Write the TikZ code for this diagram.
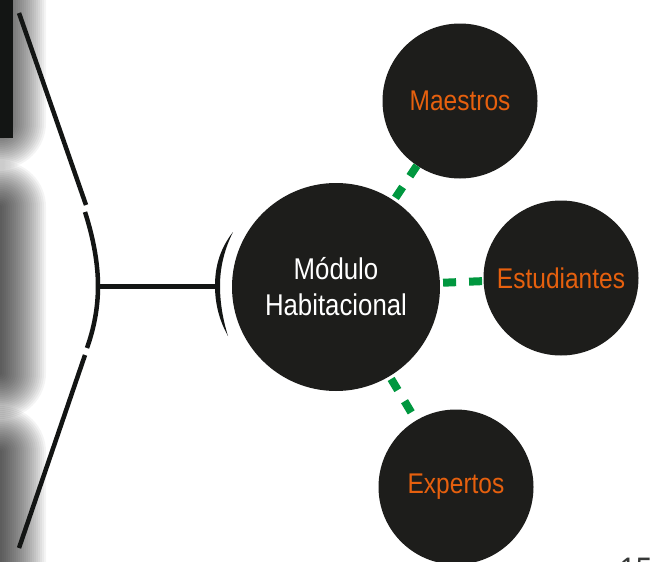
\documentclass[tikz,border=0pt]{standalone}
\usepackage{fontspec}
\setmainfont{Liberation Sans}[FakeStretch=0.86]
\usetikzlibrary{positioning}
\definecolor{coal}{HTML}{1D1D1B}
\definecolor{leaf}{HTML}{00973F}
\definecolor{ember}{HTML}{E6600E}
\definecolor{ink}{HTML}{131514}

\begin{document}
\begin{tikzpicture}[x=1pt, y=-1pt,
  hub/.style={circle, fill=coal, inner sep=0pt, minimum size=208pt,
    text=white, align=center, font=\fontsize{30}{36}\selectfont},
  spoke/.style={circle, fill=coal, inner sep=0pt, minimum size=155pt,
    text=ember, font=\fontsize{28.5}{34}\selectfont},
  link/.style={leaf, line width=8pt, dash pattern=on 13pt off 13pt, shorten <=3pt},
  brace/.style={ink, line width=4.5pt}]

\useasboundingbox (0,0) rectangle (653,562);

% Shadowed blocks on the left edge
\foreach \ya/\yb in {-60/125, 205/375, 450/640}
  \foreach \i in {0,...,22}
    \fill[black, opacity=0.045, rounded corners=2pt+2*\i pt]
      (-80-2*\i, \ya-2*\i) rectangle (2+2*\i, \yb+2*\i);
\fill[ink] (-10,-10) rectangle (13,138);

% Left brace
\coordinate (tip) at (98,286);
\coordinate (cup) at (215,286);
\draw[brace] (19,13) -- (86,205);
\draw[brace] (85,212) .. controls (94,240) and (98,265) .. (tip)
  .. controls (98,308) and (94,328) .. (87,348);
\draw[brace] (85,355) -- (19,548);
\draw[ink, line width=5pt] (tip) -- (cup);

% Small crescent in front of the hub
\fill[ink] (233,232) .. controls (219,250) and (215,268) .. (cup)
  .. controls (215,303) and (219,320) .. (228,336)
  .. controls (223,320) and (220,303) .. (220,286)
  .. controls (220,268) and (224,250) .. (233,232) -- cycle;

% Circles
\node[hub] (modulo) at (336,287) {Módulo\\Habitacional};
\node[spoke] (maestros) at (460,101) {Maestros};
\node[spoke] (estudiantes) at (561,278) {Estudiantes};
\node[spoke] (expertos) at (456,487) {Expertos};

% Dashed links
\draw[link] (modulo) -- (maestros);
\draw[link] (modulo) -- (estudiantes);
\draw[link] (modulo) -- (expertos);

% Page number, cut by the lower edge
\node[anchor=base west, text=ink!85, font=\fontsize{34}{40}\selectfont] (page) at (616,581) {15};

\end{tikzpicture}
\end{document}
